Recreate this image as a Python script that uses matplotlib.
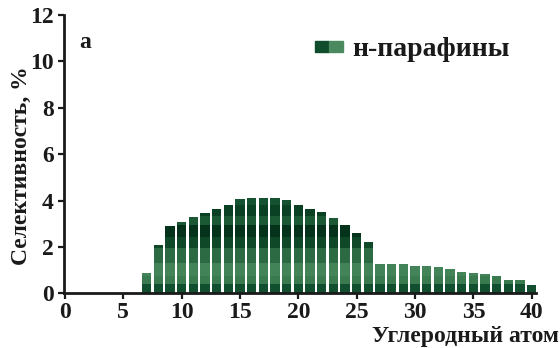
import matplotlib
matplotlib.use("Agg")
import matplotlib.pyplot as plt
from matplotlib.patches import Patch
from matplotlib.legend_handler import HandlerTuple
import numpy as np

# данные: селективность по углеродному атому
carbon = list(range(7, 41))
selectivity = [0.88, 2.10, 2.89, 3.08, 3.28, 3.45, 3.63, 3.83, 4.06, 4.13,
               4.13, 4.13, 4.03, 3.81, 3.63, 3.51, 3.27, 2.93, 2.59, 2.21,
               1.27, 1.27, 1.26, 1.20, 1.19, 1.14, 1.06, 0.91, 0.87, 0.84,
               0.77, 0.56, 0.56, 0.38]
x_ticks = [0, 5, 10, 15, 20, 25, 30, 35, 40]
y_ticks = [0, 2, 4, 6, 8, 10, 12]

# horizontal colour bands inside the bars (stripe look of the original)
bands = [(0.0, 0.4, '#124f2e'), (0.4, 0.75, '#3a7a4f'), (0.75, 1.3, '#428457'),
         (1.3, 1.95, '#2c6a43'), (1.95, 2.45, '#0e4829'), (2.45, 2.95, '#04321b'),
         (2.95, 3.35, '#1b5834'), (3.35, 3.8, '#0a4124'), (3.8, 4.5, '#145231')]

plt.rcParams['font.family'] = ['Liberation Serif', 'DejaVu Serif']
plt.rcParams['font.weight'] = 'bold'

fig = plt.figure(figsize=(5.6, 3.48), dpi=100)
ax = fig.add_axes([0.1134, 0.157, 0.8446, 0.80])

vals = np.array(selectivity)
for lo, hi, col in bands:
    h = np.clip(vals, lo, hi) - lo
    ax.bar(carbon, h, bottom=lo, width=0.8, color=col, edgecolor='none')

ax.set_xlim(-0.13, 40.4)
ax.set_ylim(0, 12)
ax.set_xticks(x_ticks)
ax.set_yticks(y_ticks)
for s in ['top', 'right']:
    ax.spines[s].set_visible(False)
for s in ['left', 'bottom']:
    ax.spines[s].set_linewidth(2)
    ax.spines[s].set_color('#1a1a1a')
ax.tick_params(axis='both', length=4, width=1.6, labelsize=17, color='#1a1a1a',
               labelcolor='#1a1a1a', pad=3)
ax.tick_params(axis='x', pad=2)
for lab in ax.get_xticklabels() + ax.get_yticklabels():
    lab.set_fontweight('bold')

ax.set_ylabel('Селективность, %', fontsize=17, fontweight='bold', color='#1a1a1a')
ax.yaxis.set_label_coords(-0.066, 0.46)
fig.text(0.999, 0.016, 'Углеродный атом', fontsize=17, fontweight='bold',
         ha='right', va='baseline', color='#1a1a1a')

ax.text(1.2, 10.8, 'а', fontsize=17, fontweight='bold', va='center', color='#1a1a1a')

dark = Patch(color='#0f4d2c')
light = Patch(color='#4a8a5e')
leg = ax.legend([(dark, light)], ['н-парафины'],
                handler_map={tuple: HandlerTuple(ndivide=None, pad=0)},
                loc='upper left', bbox_to_anchor=(0.485, 1.0), frameon=False,
                handlelength=1.0, handleheight=0.22, handletextpad=0.32,
                borderpad=0.3, prop={'size': 20, 'weight': 'bold'})
for t in leg.get_texts():
    t.set_color('#1a1a1a')

fig.savefig('out.png', dpi=100)
